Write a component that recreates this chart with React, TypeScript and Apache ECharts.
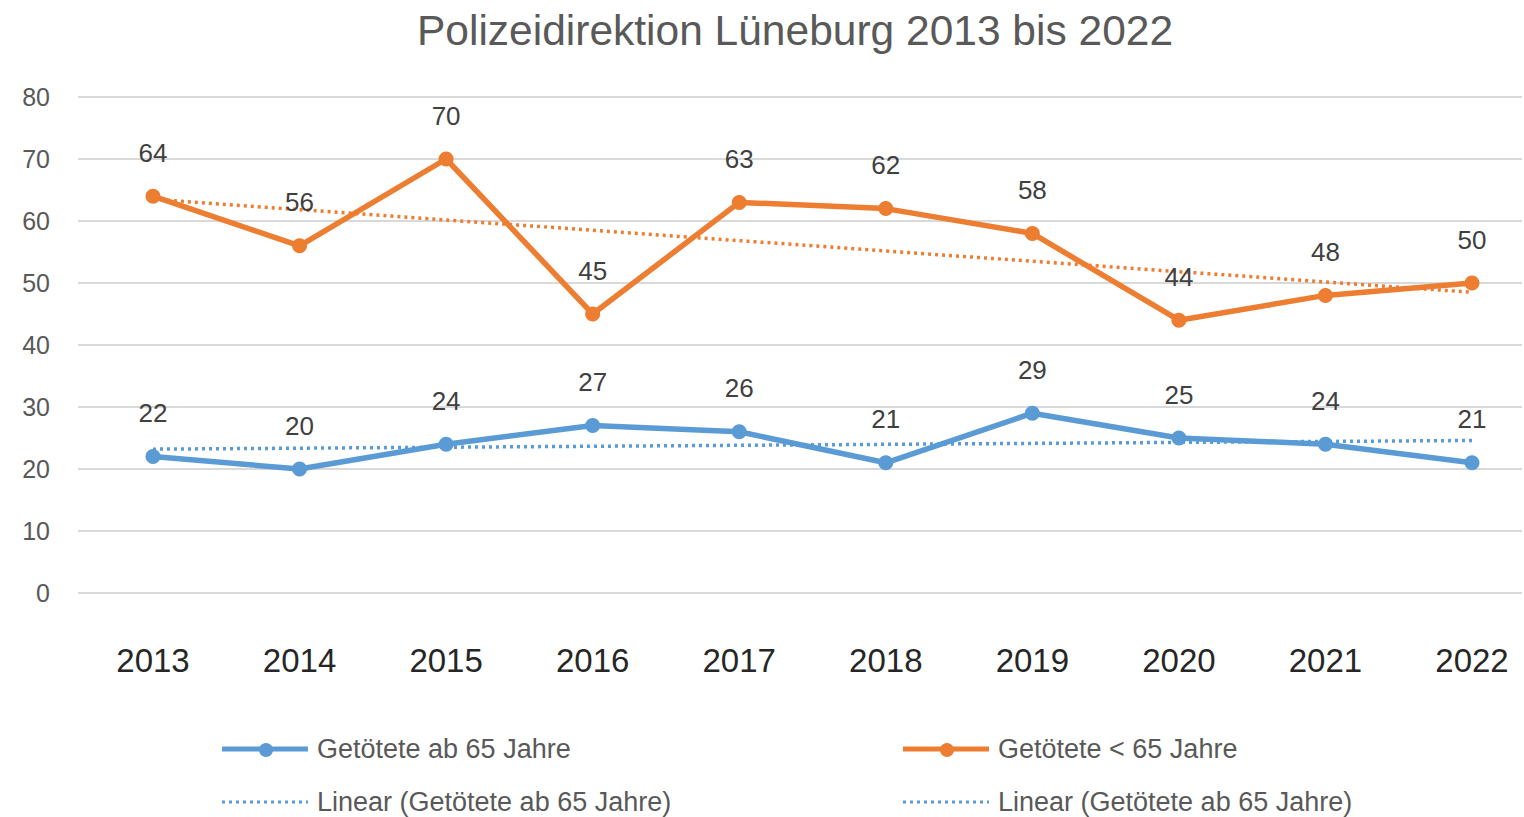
import React, { useEffect, useRef } from "react";
import * as echarts from "echarts";

const years = ["2013", "2014", "2015", "2016", "2017", "2018", "2019", "2020", "2021", "2022"];
const ab65 = [22, 20, 24, 27, 26, 21, 29, 25, 24, 21];
const unter65 = [64, 56, 70, 45, 63, 62, 58, 44, 48, 50];
// trend line end points (2013, 2022)
const trendAb65 = [23.2, 24.6];
const trendUnter65 = [63.5, 48.5];
const yTicks = [0, 10, 20, 30, 40, 50, 60, 70, 80];

const BLUE = "#5B9BD5";
const ORANGE = "#ED7D31";
const FONT = "'Liberation Sans', 'Noto Sans', sans-serif";

export default function App() {
  const ref = useRef<HTMLDivElement>(null);
  useEffect(() => {
    document.body.style.margin = "0";
    const chart = echarts.init(ref.current!, null, { renderer: "svg" });
    const labelStyle = {
      show: true,
      position: "top",
      distance: 23,
      fontSize: 26,
      color: "#404040",
      fontFamily: FONT,
    };
    const legendItems = [
      { x: 222, y: 749, color: BLUE, dotted: false, text: "Getötete ab 65 Jahre" },
      { x: 903, y: 749, color: ORANGE, dotted: false, text: "Getötete < 65 Jahre" },
      { x: 222, y: 802, color: BLUE, dotted: true, text: "Linear (Getötete ab 65 Jahre)" },
      { x: 903, y: 802, color: BLUE, dotted: true, text: "Linear (Getötete ab 65 Jahre)" },
    ];
    const graphic: any[] = [];
    legendItems.forEach((it) => {
      graphic.push({
        type: "line",
        shape: { x1: it.x, y1: it.y, x2: it.x + 86, y2: it.y },
        style: it.dotted
          ? { stroke: it.color, lineWidth: 3, lineDash: [3, 4] }
          : { stroke: it.color, lineWidth: 5 },
      });
      if (!it.dotted) {
        graphic.push({
          type: "circle",
          shape: { cx: it.x + 44, cy: it.y + 1, r: 7 },
          style: { fill: it.color },
        });
      }
      graphic.push({
        type: "text",
        x: it.x + 95,
        y: it.y,
        style: {
          text: it.text,
          fill: "#595959",
          fontSize: 27,
          fontFamily: FONT,
          verticalAlign: "middle",
        },
      });
    });

    chart.setOption({
      animation: false,
      backgroundColor: "#ffffff",
      title: {
        text: "Polizeidirektion Lüneburg 2013 bis 2022",
        left: 790,
        textAlign: "center",
        top: 4,
        textStyle: { fontSize: 42.5, fontWeight: "normal", color: "#595959", fontFamily: FONT },
      },
      grid: [
        { left: 78, right: 2, top: 97, bottom: 224 },
        { left: 153, right: 52, top: 97, bottom: 224 },
      ],
      xAxis: [
        { gridIndex: 0, type: "value", min: 0, max: 1, show: false },
        {
          gridIndex: 1,
          type: "category",
          data: years,
          boundaryGap: false,
          axisLine: { show: false },
          axisTick: { show: false },
          axisLabel: { fontSize: 33, color: "#262626", margin: 51, fontFamily: FONT },
        },
      ],
      yAxis: [
        {
          gridIndex: 0,
          type: "value",
          min: 0,
          max: 80,
          interval: 10,
          axisLine: { show: false },
          axisTick: { show: false },
          axisLabel: {
            fontSize: 25,
            color: "#595959",
            margin: 28,
            fontFamily: FONT,
            formatter: (v: number) => (yTicks.includes(v) ? String(v) : ""),
          },
          splitLine: { lineStyle: { color: "#D9D9D9", width: 2 } },
        },
        { gridIndex: 1, type: "value", min: 0, max: 80, interval: 10, show: false },
      ],
      series: [
        {
          name: "Linear (Getötete ab 65 Jahre)",
          type: "line",
          xAxisIndex: 1,
          yAxisIndex: 1,
          data: [
            [years[0], trendAb65[0]],
            [years[years.length - 1], trendAb65[1]],
          ],
          symbol: "none",
          lineStyle: { color: BLUE, width: 3.5, type: [3, 4] },
          z: 3,
        },
        {
          name: "Linear (Getötete < 65 Jahre)",
          type: "line",
          xAxisIndex: 1,
          yAxisIndex: 1,
          data: [
            [years[0], trendUnter65[0]],
            [years[years.length - 1], trendUnter65[1]],
          ],
          symbol: "none",
          lineStyle: { color: ORANGE, width: 3.5, type: [3, 4] },
          z: 3,
        },
        {
          name: "Getötete ab 65 Jahre",
          type: "line",
          xAxisIndex: 1,
          yAxisIndex: 1,
          data: ab65,
          symbol: "circle",
          symbolSize: 15,
          lineStyle: { color: BLUE, width: 5.5 },
          itemStyle: { color: BLUE },
          label: labelStyle,
          z: 4,
        },
        {
          name: "Getötete < 65 Jahre",
          type: "line",
          xAxisIndex: 1,
          yAxisIndex: 1,
          data: unter65,
          symbol: "circle",
          symbolSize: 15,
          lineStyle: { color: ORANGE, width: 5.5 },
          itemStyle: { color: ORANGE },
          label: labelStyle,
          z: 4,
        },
      ],
      graphic,
    });
    return () => chart.dispose();
  }, []);
  return <div ref={ref} style={{ width: 1524, height: 817 }} />;
}
